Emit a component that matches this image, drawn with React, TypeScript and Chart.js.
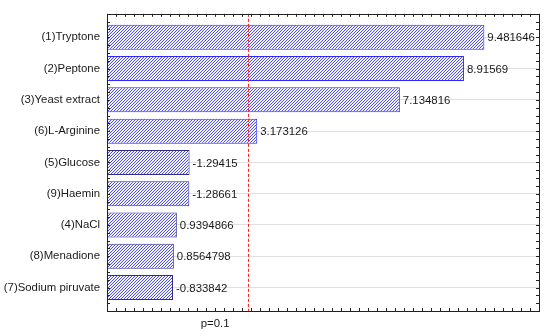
import React, { useEffect, useRef } from "react";
import { Chart, registerables } from "chart.js";

Chart.register(...registerables);

const categories = [
  "(1)Tryptone",
  "(2)Peptone",
  "(3)Yeast extract",
  "(6)L-Arginine",
  "(5)Glucose",
  "(9)Haemin",
  "(4)NaCl",
  "(8)Menadione",
  "(7)Sodium piruvate",
];
const effects = [9.481646, 8.91569, 7.134816, 3.173126, -1.29415, -1.28661, 0.9394866, 0.8564798, -0.833842];
const pValueLine = 2.92;
const pLabel = "p=0.1";
const xMin = -1;
const xMax = 11;
const minorStep = 0.25;

const FAMILY = '"Liberation Sans", Arial, sans-serif';
const SIZE = 11.4;
const FONT = `${SIZE}px ${FAMILY}`;

export default function App() {
  const ref = useRef<HTMLCanvasElement>(null);

  useEffect(() => {
    const canvas = ref.current!;
    const tile = document.createElement("canvas");
    tile.width = 3;
    tile.height = 3;
    const t = tile.getContext("2d")!;
    t.fillStyle = "#f4f4ff";
    t.fillRect(0, 0, 3, 3);
    t.strokeStyle = "#4c4cff";
    t.lineWidth = 1;
    t.beginPath();
    t.moveTo(-1, 4);
    t.lineTo(4, -1);
    t.moveTo(-1, 1);
    t.lineTo(1, -1);
    t.moveTo(2, 4);
    t.lineTo(4, 2);
    t.stroke();
    const pattern = canvas.getContext("2d")!.createPattern(tile, "repeat")!;

    const overlay = {
      id: "overlay",
      afterDatasetsDraw(chart: any) {
        const ctx = chart.ctx;
        const { left, right, top, bottom } = chart.chartArea;
        const xs = chart.scales.x;
        const ys = chart.scales.y;
        ctx.save();
        // red dashed line
        const lx = Math.round(xs.getPixelForValue(pValueLine)) + 0.5;
        ctx.strokeStyle = "#ff2020";
        ctx.lineWidth = 1;
        ctx.setLineDash([3, 2]);
        ctx.beginPath();
        ctx.moveTo(lx, top);
        ctx.lineTo(lx, bottom);
        ctx.stroke();
        ctx.setLineDash([]);
        // frame
        ctx.strokeStyle = "#222";
        ctx.lineWidth = 1;
        ctx.strokeRect(Math.round(left) + 0.5, Math.round(top) + 0.5, Math.round(right - left), Math.round(bottom - top));
        // minor ticks
        ctx.beginPath();
        for (let v = xMin; v <= xMax + 1e-9; v += minorStep) {
          const px = Math.round(xs.getPixelForValue(v)) + 0.5;
          ctx.moveTo(px, bottom);
          ctx.lineTo(px, bottom - 3);
          ctx.moveTo(px, top);
          ctx.lineTo(px, top + 3);
        }
        for (let v = ys.min; v <= ys.max + 1e-9; v += minorStep) {
          const py = Math.round(ys.getPixelForValue(v)) + 0.5;
          ctx.moveTo(left, py);
          ctx.lineTo(left + 3, py);
          ctx.moveTo(right, py);
          ctx.lineTo(right - 3, py);
        }
        ctx.stroke();
        // value labels
        ctx.fillStyle = "#1a1a1a";
        ctx.font = FONT;
        ctx.textAlign = "left";
        ctx.textBaseline = "middle";
        effects.forEach((v, i) => {
          ctx.fillText(String(v), xs.getPixelForValue(Math.abs(v)) + 3, ys.getPixelForValue(i) + 1);
        });
        // p label
        ctx.textAlign = "right";
        ctx.fillText(pLabel, lx - 19, bottom + 13);
        ctx.restore();
      },
    };

    const chart = new Chart(canvas, {
      type: "bar",
      data: {
        datasets: [
          {
            data: effects.map((v, i) => ({ x: [xMin, Math.abs(v)], y: i })) as any,
            backgroundColor: pattern as any,
            borderColor: effects.map((v) => (Math.abs(v) > pValueLine ? "#2a2aff" : "#2e2e8a")),
            borderWidth: 1,
            borderSkipped: false,
            barPercentage: 0.8,
            categoryPercentage: 1,
          },
        ],
      },
      options: {
        indexAxis: "y",
        animation: false,
        responsive: true,
        maintainAspectRatio: false,
        layout: { padding: { top: 8, right: 11, left: 0, bottom: 0 } },
        plugins: { legend: { display: false }, tooltip: { enabled: false } },
        scales: {
          x: {
            type: "linear",
            min: xMin,
            max: xMax,
            offset: false,
            ticks: { display: false },
            grid: { display: false },
            border: { display: false },
            afterFit: (s: any) => {
              s.height = 25;
            },
          },
          y: {
            type: "linear",
            reverse: true,
            offset: false,
            min: -0.75,
            max: categories.length - 0.25,
            afterBuildTicks: (s: any) => {
              s.ticks = categories.map((_, i) => ({ value: i }));
            },
            ticks: {
              callback: (v: any) => categories[v as number],
              font: { family: FAMILY, size: SIZE },
              color: "#1a1a1a",
              padding: 7,
              autoSkip: false,
            },
            grid: { color: "#e0e0e0", drawTicks: false, offset: false },
            border: { display: false },
            afterFit: (s: any) => {
              s.width = 107;
            },
          },
        },
      },
      plugins: [overlay],
    });
    return () => chart.destroy();
  }, []);

  return (
    <div style={{ position: "absolute", left: 0, top: 0, width: 550, height: 336, background: "#fff" }}>
      <canvas ref={ref} />
    </div>
  );
}
